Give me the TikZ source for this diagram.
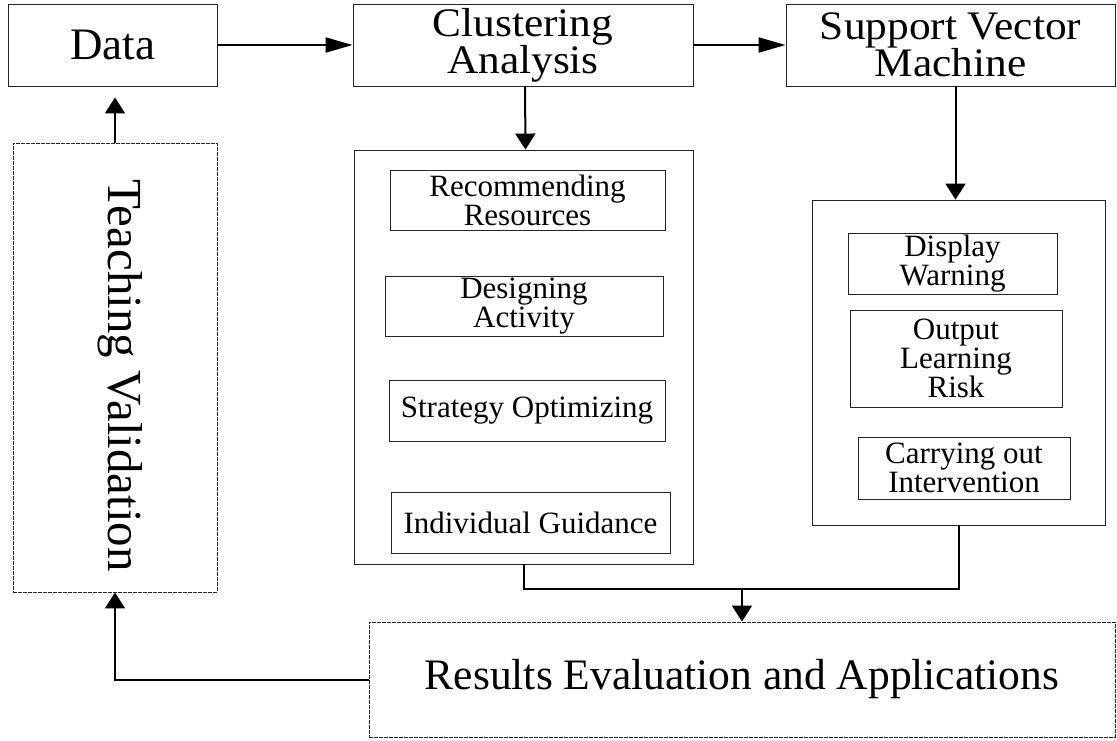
\documentclass[tikz,border=0pt]{standalone}
\usepackage{fontspec}
\setmainfont{Liberation Serif}
\newfontfamily\widefont[FakeStretch=1.07]{Liberation Serif}
\usetikzlibrary{arrows.meta,calc}
\begin{document}
\begin{tikzpicture}[x=1pt,y=-1pt,
  box/.style={draw=black!85,line width=0.9pt,rectangle,inner sep=0pt,align=center},
  dbox/.style={box,dash pattern=on 4pt off 1pt},
  big/.style={font=\widefont\fontsize{40.5}{37}\selectfont},
  small/.style={font=\fontsize{31}{29}\selectfont},
  conn/.style={line width=2pt,black},
  arr/.style={conn,-{Triangle[length=16pt,width=20pt]}},
  harr/.style={conn,-{Triangle[length=27pt,width=15pt]}}]
\useasboundingbox (0,0) rectangle (1117,740);
% top row
\node[box,minimum width=209pt,minimum height=82pt,font=\fontsize{45}{45}\selectfont] (data) at (112.5,45) {Data};
\node[box,big,minimum width=340pt,minimum height=82pt] (clust) at (523,45) {Clustering\\Analysis};
\node[box,big,minimum width=329pt,minimum height=82pt] (svm) at (950.5,45) {Support Vector\\Machine};
% teaching validation
\node[dbox,minimum width=204pt,minimum height=449pt] (tv) at (115,367.5) {};
\node[rotate=-90,font=\fontsize{49}{49}\selectfont] (tvt) at ($(tv.center)+(5,8)$) {Teaching Validation};
% group 1
\node[box,minimum width=339pt,minimum height=414pt] (g1) at (523.5,357) {};
\node[box,small,minimum width=275pt,minimum height=60pt] (rr) at (527.5,200) {Recommending\\Resources};
\node[box,small,minimum width=278pt,minimum height=60pt] (da) at (524,306) {Designing\\Activity};
\node[box,small,minimum width=276pt,minimum height=61pt] (so) at (527,410.5) {Strategy Optimizing};
\node[box,small,minimum width=279pt,minimum height=61pt] (ig) at (530.5,522.5) {Individual Guidance};
% group 2
\node[box,minimum width=293pt,minimum height=325pt] (g2) at (958.5,362.5) {};
\node[box,small,minimum width=209pt,minimum height=61pt] (dw) at (952.5,263.5) {Display\\Warning};
\node[box,small,minimum width=212pt,minimum height=97pt] (olr) at (956,358.5) {Output\\Learning\\Risk};
\node[box,small,minimum width=212pt,minimum height=62pt] (coi) at (964,468) {Carrying out\\Intervention};
% results
\node[dbox,minimum width=746pt,minimum height=115pt,font=\fontsize{43.5}{43.5}\selectfont] (res) at (742,679.5) {Results Evaluation and Applications};
% connectors
\draw[harr] (data) -- (clust);
\draw[harr] (clust) -- (svm);
\draw[arr] ([xshift=2pt]clust.south) -- ([xshift=2pt]g1.north);
\draw[arr] ([xshift=-3pt]g2.north |- svm.south) -- ([xshift=-3pt]g2.north);
\draw[arr,shorten >=11pt] (tv.north) -- (tv.north |- data.south);
\coordinate (j) at ($(g1.south)+(0,25)$);
\draw[conn] (g1.south) -- (j) -| (g2.south);
\draw[arr] (res.north |- j) -- (res.north);
\draw[arr] (res.west) -| (tv.south);
\end{tikzpicture}
\end{document}
